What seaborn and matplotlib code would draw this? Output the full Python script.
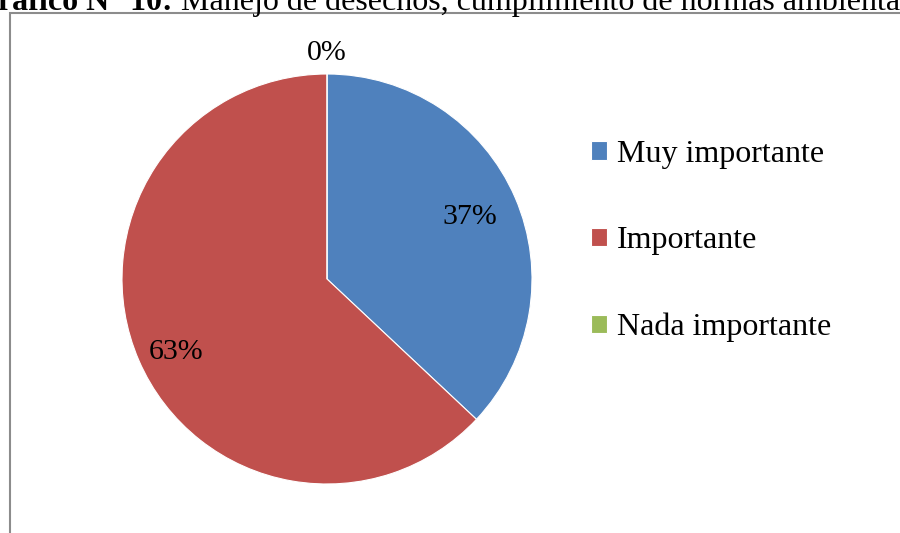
import matplotlib
matplotlib.use("Agg")
import matplotlib.pyplot as plt
from matplotlib.patches import Rectangle
import seaborn as sns
import numpy as np

categories = ["Muy importante", "Importante", "Nada importante"]
values = [37, 63, 0]
colors = ["#4F81BD", "#C0504D", "#9BBB59"]
title_bold = "Gráfico N° 10:"
title_rest = " Manejo de desechos, cumplimiento de normas ambientales"

sns.set_theme(style="white")
plt.rcParams["font.family"] = ["Liberation Serif", "DejaVu Serif"]
plt.rcParams["text.color"] = "black"

W, H = 900, 533
fig = plt.figure(figsize=(W / 100, H / 100), dpi=100)
fig.patch.set_facecolor("white")

# frame
fig.patches.append(Rectangle((10 / W, -0.1), 1.2, (H - 12.5) / H + 0.1,
                             transform=fig.transFigure, fill=False,
                             edgecolor="#8c8c8c", linewidth=1.5))

# title (clipped at top, as in the source)
tb = fig.text(-27 / W, 1 - 10 / H, title_bold, fontsize=23, fontweight="bold",
              ha="left", va="baseline", color="black")
fig.canvas.draw()
bb = tb.get_window_extent()
fig.text(bb.x1 / W, 1 - 10 / H, title_rest, fontsize=23, ha="left",
         va="baseline", color="black")

cx, cy, r = 327, H - 279, 205
ax = fig.add_axes([(cx - r) / W, (cy - r) / H, 2 * r / W, 2 * r / H])
wedges, _ = ax.pie(values, colors=colors, startangle=90, counterclock=False,
                   radius=1, wedgeprops=dict(edgecolor="white", linewidth=0.8))
ax.set_xlim(-1, 1)
ax.set_ylim(-1, 1)
ax.set_aspect("equal")
ax.axis("off")

total = sum(values)
start = 90.0
dists = [0.76, 0.80, 1.1]
yoffs = [0.0, -0.04, 0.0]
for v, d, yo in zip(values, dists, yoffs):
    sweep = 360.0 * v / total
    mid = np.deg2rad(start - sweep / 2)
    ax.text(d * np.cos(mid), d * np.sin(mid) + yo, f"{v / total:.0%}",
            ha="center", va="center", fontsize=21.5, color="black", clip_on=False)
    start -= sweep

leg = fig.legend(wedges, categories, loc="center left",
                 bbox_to_anchor=(575 / W, 1 - 241 / H), frameon=False,
                 fontsize=23, handlelength=0.5, handleheight=0.5,
                 handletextpad=0.3, labelspacing=1.8, borderpad=0,
                 labelcolor="black")

fig.savefig("out.png", dpi=100)
